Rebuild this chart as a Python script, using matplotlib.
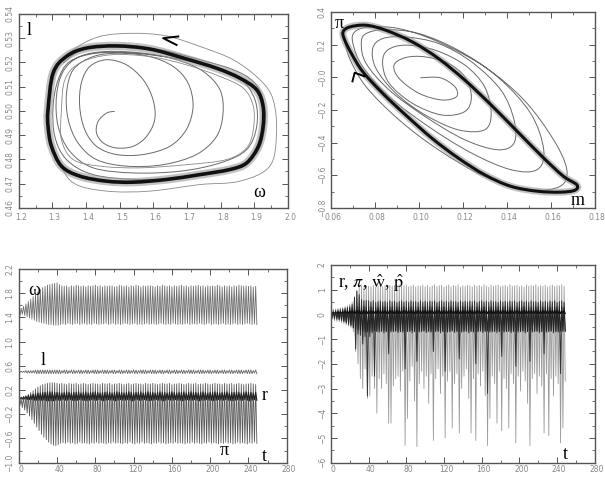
import numpy as np
import matplotlib
matplotlib.use('Agg')
import matplotlib.pyplot as plt
import matplotlib.transforms as mtransforms
from matplotlib.ticker import AutoMinorLocator
from matplotlib.path import Path
from matplotlib.patches import PathPatch

plt.rcParams['mathtext.fontset'] = 'stix'

# ---------------- panel 1: (omega, l) phase portrait ----------------
spiral1_w = [1.485, 1.461, 1.436, 1.431, 1.451, 1.490, 1.540, 1.580, 1.604, 1.599,
             1.570, 1.520, 1.461, 1.411, 1.386, 1.381, 1.396, 1.431, 1.490, 1.570,
             1.649, 1.698, 1.718, 1.703, 1.659, 1.589, 1.500, 1.421, 1.362, 1.342,
             1.347, 1.376, 1.431, 1.520, 1.629, 1.728, 1.788, 1.807, 1.798, 1.748,
             1.669, 1.570, 1.461, 1.381, 1.332, 1.312, 1.317, 1.352, 1.421, 1.540,
             1.679, 1.798, 1.877, 1.907, 1.902, 1.857, 1.778, 1.659, 1.540, 1.431,
             1.352, 1.317, 1.302, 1.307, 1.342, 1.421, 1.560, 1.718, 1.837, 1.907,
             1.931, 1.926, 1.897, 1.837, 1.738, 1.619, 1.490, 1.391, 1.332]
spiral1_l = [0.4998, 0.4991, 0.4957, 0.4909, 0.4868, 0.4847, 0.4854, 0.4895, 0.4964, 0.5046,
             0.5128, 0.5190, 0.5211, 0.5183, 0.5115, 0.5019, 0.4923, 0.4854, 0.4820, 0.4820,
             0.4854, 0.4923, 0.5019, 0.5115, 0.5183, 0.5224, 0.5238, 0.5224, 0.5170, 0.5073,
             0.4964, 0.4868, 0.4799, 0.4772, 0.4778, 0.4820, 0.4895, 0.4991, 0.5087, 0.5163,
             0.5211, 0.5238, 0.5245, 0.5224, 0.5163, 0.5060, 0.4936, 0.4833, 0.4765, 0.4744,
             0.4751, 0.4785, 0.4840, 0.4936, 0.5046, 0.5135, 0.5183, 0.5218, 0.5238, 0.5238,
             0.5204, 0.5128, 0.5019, 0.4895, 0.4799, 0.4737, 0.4717, 0.4730, 0.4765, 0.4826,
             0.4936, 0.5046, 0.5121, 0.5170, 0.5211, 0.5252, 0.5268, 0.5255, 0.5197]

cycle1_w = [1.287, 1.302, 1.342, 1.401, 1.490, 1.590, 1.689, 1.788, 1.857, 1.907, 1.926, 1.926,
            1.912, 1.877, 1.827, 1.738, 1.639, 1.540, 1.461, 1.381, 1.327, 1.297, 1.287]
cycle1_l = [0.5005, 0.5156, 0.5225, 0.5259, 0.5268, 0.5255, 0.5218, 0.5176, 0.5135, 0.5087, 0.5019, 0.4936,
            0.4854, 0.4785, 0.4758, 0.4737, 0.4717, 0.4706, 0.4710, 0.4731, 0.4772, 0.4855, 0.4937]

outer1_w = [1.284, 1.312, 1.362, 1.441, 1.540, 1.639, 1.738, 1.837, 1.917, 1.956,
            1.966, 1.946, 1.857, 1.738, 1.589, 1.461, 1.362, 1.317, 1.290]
outer1_l = [0.5005, 0.5170, 0.5252, 0.5307, 0.5320, 0.5309, 0.5266, 0.5211, 0.5128, 0.5046,
            0.4909, 0.4772, 0.4710, 0.4696, 0.4669, 0.4669, 0.4703, 0.4799, 0.4909]

inner1_w = [1.327, 1.337, 1.381, 1.470, 1.589, 1.698, 1.798, 1.867, 1.897, 1.897,
            1.877, 1.817, 1.698, 1.560, 1.441, 1.362, 1.327]
inner1_l = [0.5005, 0.5128, 0.5197, 0.5231, 0.5224, 0.5190, 0.5142, 0.5094, 0.5019, 0.4923,
            0.4847, 0.4799, 0.4778, 0.4765, 0.4772, 0.4799, 0.4881]

arrow1_w = [1.674, 1.629, 1.669]
arrow1_l = [0.5307, 0.5300, 0.5272]

# ---------------- panel 2: (m, pi) phase portrait ----------------
spiral2_m = [0.1007, 0.1097, 0.1164, 0.1171, 0.1104, 0.1000, 0.0910, 0.0887, 0.0940, 0.1029,
             0.1134, 0.1209, 0.1239, 0.1209, 0.1104, 0.0970, 0.0865, 0.0835, 0.0857, 0.0940,
             0.1074, 0.1209, 0.1299, 0.1329, 0.1299, 0.1179, 0.1029, 0.0895, 0.0805, 0.0790,
             0.0835, 0.0940, 0.1089, 0.1239, 0.1373, 0.1433, 0.1433, 0.1358, 0.1209, 0.1029,
             0.0865, 0.0760, 0.0738, 0.0760, 0.0850, 0.1000, 0.1179, 0.1358, 0.1508, 0.1568,
             0.1538, 0.1418, 0.1239, 0.1044, 0.0865, 0.0745, 0.0700, 0.0708, 0.0775, 0.0910,
             0.1089, 0.1299, 0.1478, 0.1613, 0.1673, 0.1643, 0.1508, 0.1299, 0.1089, 0.0910,
             0.0760, 0.0685, 0.0663]
spiral2_pi = [-0.003, -0.003, -0.058, -0.119, -0.139, -0.098, -0.007, 0.075, 0.121, 0.125,
              0.085, 0.003, -0.119, -0.210, -0.231, -0.159, -0.037, 0.085, 0.166, 0.197,
              0.166, 0.075, -0.058, -0.220, -0.322, -0.322, -0.231, -0.098, 0.054, 0.176,
              0.237, 0.247, 0.207, 0.095, -0.078, -0.261, -0.403, -0.444, -0.383, -0.241,
              -0.078, 0.085, 0.207, 0.268, 0.292, 0.268, 0.166, 0.003, -0.220, -0.444,
              -0.566, -0.566, -0.464, -0.302, -0.119, 0.064, 0.207, 0.278, 0.308, 0.298,
              0.217, 0.064, -0.139, -0.383, -0.566, -0.668, -0.688, -0.607, -0.444, -0.261,
              -0.058, 0.115, 0.227]

cycle2_m = [0.0655, 0.0685, 0.0760, 0.0850, 0.0970, 0.1089, 0.1209, 0.1329, 0.1448, 0.1568,
            0.1658, 0.1718, 0.1710, 0.1643, 0.1538, 0.1418, 0.1299, 0.1179, 0.1059, 0.0940,
            0.0835, 0.0745, 0.0693, 0.0663]
cycle2_pi = [0.278, 0.308, 0.319, 0.288, 0.217, 0.115, -0.017, -0.170, -0.332, -0.495,
             -0.607, -0.658, -0.692, -0.704, -0.698, -0.668, -0.597, -0.495, -0.373, -0.231,
             -0.098, 0.034, 0.146, 0.227]

arrow2_m = [0.0698, 0.0708, 0.0752]
arrow2_pi = [-0.025, 0.028, 0.006]

# ---------------- panels 3 and 4: time series (one value per cycle) ----------------
t = np.arange(0, 250, 2.5)

omega_hi = [1.60, 1.55, 1.58, 1.62, 1.66, 1.70, 1.74, 1.78, 1.82, 1.86, 1.89,
            1.91, 1.93, 1.94, 1.95, 1.96, 1.97,
            1.94, 1.92, 1.91, 1.92, 1.90, 1.92, 1.91, 1.93, 1.92, 1.91,
            1.92, 1.90, 1.92, 1.91, 1.92, 1.93, 1.91, 1.92, 1.90, 1.92,
            1.91, 1.92, 1.92, 1.90, 1.91, 1.93, 1.92, 1.91, 1.92, 1.90,
            1.92, 1.91, 1.93, 1.92, 1.90, 1.92, 1.91, 1.92, 1.92, 1.91,
            1.90, 1.92, 1.91, 1.93, 1.92, 1.91, 1.92, 1.90, 1.92, 1.91,
            1.92, 1.93, 1.91, 1.92, 1.90, 1.92, 1.91, 1.92, 1.93, 1.91,
            1.92, 1.90, 1.92, 1.91, 1.92, 1.91, 1.93, 1.92, 1.90, 1.92,
            1.91, 1.92, 1.90, 1.92, 1.91, 1.93, 1.92, 1.91, 1.92, 1.91,
            1.92, 1.90, 1.91]
omega_lo = [1.42, 1.45, 1.43, 1.41, 1.39, 1.37, 1.35, 1.33, 1.32, 1.31, 1.30,
            1.29, 1.28, 1.28, 1.27, 1.27, 1.27,
            1.28, 1.29, 1.28, 1.30, 1.29, 1.28, 1.29, 1.30, 1.28, 1.29,
            1.30, 1.28, 1.29, 1.28, 1.30, 1.29, 1.28, 1.29, 1.29, 1.30,
            1.28, 1.29, 1.30, 1.28, 1.29, 1.28, 1.29, 1.30, 1.29, 1.28,
            1.29, 1.30, 1.28, 1.29, 1.28, 1.29, 1.30, 1.28, 1.29, 1.29,
            1.28, 1.29, 1.30, 1.29, 1.28, 1.29, 1.28, 1.30, 1.29, 1.28,
            1.29, 1.28, 1.29, 1.30, 1.28, 1.29, 1.29, 1.28, 1.30, 1.29,
            1.28, 1.29, 1.30, 1.28, 1.29, 1.29, 1.28, 1.29, 1.30, 1.28,
            1.29, 1.28, 1.29, 1.30, 1.28, 1.29, 1.28, 1.29, 1.30, 1.29,
            1.28, 1.29, 1.28]
pi_hi = [0.04, 0.06, 0.08, 0.10, 0.13, 0.16, 0.19, 0.22, 0.25, 0.27, 0.29,
         0.30, 0.31, 0.32, 0.32, 0.32, 0.31,
         0.30, 0.31, 0.30, 0.29, 0.31, 0.30, 0.30, 0.31, 0.29, 0.30,
         0.31, 0.30, 0.29, 0.30, 0.31, 0.30, 0.30, 0.29, 0.31, 0.30,
         0.30, 0.31, 0.29, 0.30, 0.30, 0.31, 0.30, 0.29, 0.30, 0.31,
         0.29, 0.30, 0.31, 0.30, 0.30, 0.29, 0.31, 0.30, 0.30, 0.31,
         0.30, 0.29, 0.30, 0.31, 0.30, 0.30, 0.31, 0.29, 0.30, 0.30,
         0.31, 0.30, 0.29, 0.30, 0.31, 0.30, 0.30, 0.31, 0.29, 0.30,
         0.30, 0.31, 0.30, 0.29, 0.30, 0.31, 0.30, 0.30, 0.29, 0.31,
         0.30, 0.30, 0.31, 0.29, 0.30, 0.31, 0.30, 0.29, 0.30, 0.30,
         0.31, 0.30, 0.29]
pi_lo = [-0.05, -0.09, -0.13, -0.18, -0.23, -0.29, -0.35, -0.41, -0.47, -0.53, -0.58,
         -0.62, -0.66, -0.69, -0.71, -0.72, -0.70,
         -0.68, -0.67, -0.68, -0.66, -0.68, -0.67, -0.69, -0.68, -0.66, -0.68,
         -0.67, -0.68, -0.69, -0.67, -0.68, -0.66, -0.68, -0.67, -0.68, -0.69,
         -0.67, -0.68, -0.66, -0.68, -0.67, -0.68, -0.69, -0.67, -0.68, -0.66,
         -0.68, -0.69, -0.67, -0.68, -0.66, -0.68, -0.67, -0.68, -0.69, -0.67,
         -0.68, -0.66, -0.68, -0.67, -0.69, -0.68, -0.67, -0.68, -0.66, -0.68,
         -0.67, -0.68, -0.69, -0.67, -0.68, -0.66, -0.68, -0.67, -0.68, -0.69,
         -0.67, -0.68, -0.66, -0.68, -0.67, -0.68, -0.69, -0.67, -0.68, -0.66,
         -0.68, -0.67, -0.69, -0.68, -0.66, -0.68, -0.67, -0.68, -0.69, -0.67,
         -0.68, -0.66, -0.68]
l_hi = [0.51, 0.51, 0.51, 0.52, 0.52, 0.52, 0.52, 0.53, 0.53, 0.53, 0.53,
        0.53, 0.53, 0.53, 0.53, 0.53, 0.53,
        0.53, 0.52, 0.53, 0.53, 0.52, 0.53, 0.53, 0.52, 0.53, 0.53,
        0.52, 0.53, 0.53, 0.52, 0.53, 0.53, 0.53, 0.52, 0.53, 0.53,
        0.53, 0.52, 0.53, 0.53, 0.52, 0.53, 0.53, 0.52, 0.53, 0.53,
        0.52, 0.53, 0.53, 0.52, 0.53, 0.53, 0.53, 0.52, 0.53, 0.53,
        0.53, 0.52, 0.53, 0.53, 0.52, 0.53, 0.53, 0.52, 0.53, 0.53,
        0.52, 0.53, 0.53, 0.52, 0.53, 0.53, 0.53, 0.52, 0.53, 0.53,
        0.53, 0.52, 0.53, 0.53, 0.52, 0.53, 0.53, 0.52, 0.53, 0.53,
        0.52, 0.53, 0.53, 0.52, 0.53, 0.53, 0.53, 0.52, 0.53, 0.53,
        0.53, 0.52, 0.53]
l_lo = [0.49, 0.49, 0.49, 0.48, 0.48, 0.48, 0.48, 0.47, 0.47, 0.47, 0.47,
        0.47, 0.47, 0.47, 0.47, 0.47, 0.47,
        0.47, 0.48, 0.47, 0.47, 0.48, 0.47, 0.47, 0.48, 0.47, 0.47,
        0.48, 0.47, 0.47, 0.48, 0.47, 0.47, 0.47, 0.48, 0.47, 0.47,
        0.47, 0.48, 0.47, 0.47, 0.48, 0.47, 0.47, 0.48, 0.47, 0.47,
        0.48, 0.47, 0.47, 0.48, 0.47, 0.47, 0.47, 0.48, 0.47, 0.47,
        0.47, 0.48, 0.47, 0.47, 0.48, 0.47, 0.47, 0.48, 0.47, 0.47,
        0.48, 0.47, 0.47, 0.48, 0.47, 0.47, 0.47, 0.48, 0.47, 0.47,
        0.47, 0.48, 0.47, 0.47, 0.48, 0.47, 0.47, 0.48, 0.47, 0.47,
        0.48, 0.47, 0.47, 0.48, 0.47, 0.47, 0.47, 0.48, 0.47, 0.47,
        0.47, 0.48, 0.47]
r_hi = [0.08, 0.08, 0.09, 0.10, 0.11, 0.12, 0.13, 0.14, 0.15, 0.15, 0.16,
        0.16, 0.17, 0.17, 0.17, 0.16, 0.16,
        0.16, 0.15, 0.16, 0.17, 0.16, 0.15, 0.16, 0.16, 0.17, 0.15,
        0.16, 0.17, 0.15, 0.16, 0.16, 0.17, 0.16, 0.15, 0.16, 0.16,
        0.17, 0.16, 0.15, 0.16, 0.17, 0.16, 0.16, 0.15, 0.16, 0.17,
        0.16, 0.15, 0.16, 0.16, 0.17, 0.15, 0.16, 0.17, 0.16, 0.16,
        0.15, 0.16, 0.17, 0.16, 0.16, 0.15, 0.16, 0.17, 0.16, 0.15,
        0.16, 0.16, 0.17, 0.15, 0.16, 0.17, 0.16, 0.16, 0.15, 0.16,
        0.17, 0.16, 0.15, 0.16, 0.16, 0.17, 0.16, 0.15, 0.16, 0.16,
        0.17, 0.15, 0.16, 0.16, 0.17, 0.16, 0.15, 0.16, 0.17, 0.16,
        0.16, 0.15, 0.16]
r_lo = [0.05, 0.05, 0.05, 0.04, 0.04, 0.04, 0.03, 0.03, 0.03, 0.03, 0.03,
        0.02, 0.02, 0.02, 0.02, 0.03, 0.03,
        0.03, 0.04, 0.03, 0.03, 0.04, 0.03, 0.02, 0.03, 0.04, 0.03,
        0.03, 0.02, 0.03, 0.04, 0.03, 0.03, 0.04, 0.03, 0.02, 0.03,
        0.04, 0.03, 0.03, 0.02, 0.03, 0.04, 0.03, 0.03, 0.04, 0.03,
        0.02, 0.03, 0.04, 0.03, 0.03, 0.04, 0.03, 0.02, 0.03, 0.03,
        0.04, 0.03, 0.03, 0.02, 0.03, 0.04, 0.03, 0.03, 0.04, 0.03,
        0.03, 0.02, 0.03, 0.04, 0.03, 0.03, 0.04, 0.03, 0.02, 0.03,
        0.03, 0.04, 0.03, 0.03, 0.02, 0.03, 0.04, 0.03, 0.03, 0.04,
        0.03, 0.03, 0.02, 0.03, 0.04, 0.03, 0.03, 0.04, 0.03, 0.02,
        0.03, 0.04, 0.03]

# w-hat (dark) and p-hat (light grey spikes) for panel 4
wh_hi = [0.12, 0.14, 0.16, 0.18, 0.20, 0.22, 0.25, 0.28, 0.32, 0.40, 0.70,
         0.95, 0.80, 0.60, 0.55, 0.56, 0.55,
         0.50, 0.55, 0.48, 0.52, 0.55, 0.50, 0.53, 0.49, 0.55, 0.51,
         0.54, 0.48, 0.52, 0.55, 0.50, 0.53, 0.49, 0.55, 0.51, 0.52,
         0.48, 0.55, 0.50, 0.53, 0.49, 0.54, 0.51, 0.55, 0.48, 0.52,
         0.55, 0.50, 0.53, 0.49, 0.55, 0.51, 0.52, 0.48, 0.55, 0.50,
         0.53, 0.49, 0.54, 0.51, 0.55, 0.48, 0.52, 0.55, 0.50, 0.53,
         0.49, 0.55, 0.51, 0.52, 0.48, 0.55, 0.50, 0.53, 0.49, 0.54,
         0.51, 0.55, 0.48, 0.52, 0.55, 0.50, 0.53, 0.49, 0.55, 0.51,
         0.52, 0.48, 0.55, 0.50, 0.53, 0.49, 0.54, 0.51, 0.55, 0.48,
         0.52, 0.55, 0.50]
wh_lo = [-0.15, -0.18, -0.20, -0.22, -0.25, -0.28, -0.32, -0.36, -0.42, -0.55, -1.40,
         -0.80, -0.85, -1.20, -0.90, -3.30, -0.90,
         -0.75, -2.50, -0.70, -0.72, -0.68, -0.75, -0.70, -1.60, -0.72, -0.70,
         -0.68, -0.74, -0.70, -0.72, -2.20, -0.70, -0.68, -0.75, -0.70, -1.90,
         -0.72, -0.70, -0.68, -0.74, -0.70, -0.72, -1.50, -0.70, -0.68, -0.75,
         -0.70, -2.30, -0.72, -0.70, -0.68, -0.74, -0.70, -1.80, -0.72, -0.70,
         -0.68, -0.75, -0.70, -0.72, -2.00, -0.70, -0.68, -0.74, -0.70, -3.20,
         -0.72, -0.70, -0.68, -0.75, -0.70, -1.70, -0.72, -0.70, -0.68, -0.74,
         -0.70, -2.10, -0.72, -0.70, -0.68, -0.75, -0.70, -1.90, -0.72, -0.70,
         -0.68, -0.74, -0.70, -1.60, -0.72, -0.70, -0.68, -0.75, -0.70, -0.72,
         -2.40, -0.70, -0.68]
ph_hi = [0.25, 0.22, 0.22, 0.24, 0.26, 0.28, 0.32, 0.36, 0.42, 0.50, 0.70,
         0.95, 1.10, 1.15, 1.12, 1.15, 1.14,
         1.12, 1.18, 1.10, 1.15, 1.20, 1.12, 1.16, 1.10, 1.18, 1.14,
         1.17, 1.11, 1.19, 1.13, 1.16, 1.20, 1.12, 1.15, 1.18, 1.10,
         1.16, 1.14, 1.19, 1.12, 1.17, 1.10, 1.15, 1.20, 1.13, 1.16,
         1.18, 1.11, 1.15, 1.19, 1.12, 1.17, 1.14, 1.20, 1.10, 1.16,
         1.13, 1.18, 1.15, 1.11, 1.19, 1.14, 1.17, 1.12, 1.20, 1.15,
         1.10, 1.18, 1.13, 1.16, 1.19, 1.12, 1.15, 1.17, 1.11, 1.20,
         1.14, 1.16, 1.18, 1.12, 1.15, 1.10, 1.19, 1.13, 1.17, 1.15,
         1.20, 1.12, 1.16, 1.14, 1.18, 1.11, 1.15, 1.19, 1.13, 1.17,
         1.16, 1.20, 1.14]
ph_lo = [-0.20, -0.25, -0.28, -0.30, -0.34, -0.38, -0.42, -0.48, -0.55, -0.70, -1.50,
         -2.00, -2.60, -3.00, -2.20, -3.40, -3.30,
         -2.50, -3.00, -4.00, -2.60, -3.00, -2.40, -2.80, -4.40, -4.40, -2.90,
         -2.60, -2.50, -3.10, -2.30, -5.30, -4.20, -2.70, -2.10, -3.50, -5.35,
         -2.80, -2.30, -3.00, -2.50, -3.60, -2.40, -5.10, -2.60, -2.20, -3.20,
         -2.50, -5.00, -2.70, -2.30, -4.60, -2.80, -2.40, -4.80, -3.00, -2.50,
         -2.20, -3.40, -4.80, -2.60, -5.10, -2.40, -2.90, -2.30, -3.30, -5.30,
         -4.20, -2.50, -2.80, -4.40, -2.30, -4.70, -2.60, -3.00, -4.60, -2.40,
         -2.80, -5.20, -2.50, -3.10, -2.30, -2.70, -3.60, -5.30, -2.60, -2.40,
         -3.20, -2.50, -2.90, -4.80, -2.40, -4.90, -2.60, -3.30, -2.50, -2.80,
         -5.20, -4.60, -2.70]

for s in [omega_hi, omega_lo, pi_hi, pi_lo, l_hi, l_lo, r_hi, r_lo, wh_hi, wh_lo, ph_hi, ph_lo]:
    assert len(s) == len(t), len(s)

# tick labels
p1_xticks = [1.2, 1.3, 1.4, 1.5, 1.6, 1.7, 1.8, 1.9, 2.0]
p1_yticks = [0.46, 0.47, 0.48, 0.49, 0.50, 0.51, 0.52, 0.53, 0.54]
p2_xticks = [0.06, 0.08, 0.10, 0.12, 0.14, 0.16, 0.18]
p2_yticks = [-0.8, -0.6, -0.4, -0.2, 0.0, 0.2, 0.4]
p2_ylabels = ['\u22120.8', '\u22120.6', '\u22120.4', '\u22120.2', '\u22120.0', '0.2', '0.4']
p3_yticks = [-1.0, -0.6, -0.2, 0.2, 0.6, 1.0, 1.4, 1.8, 2.2]
p3_ylabels = ['\u22121.0', '\u22120.6', '\u22120.2', '0.2', '0.6', '1.0', '1.4', '1.8', '2.2']
p4_yticks = [-6, -5, -4, -3, -2, -1, 0, 1, 2]
p4_ylabels = ['\u22126', '\u22125', '\u22124', '\u22123', '\u22122', '\u22121', '0', '1', '2']
t_ticks = [0, 40, 80, 120, 160, 200, 240, 280]


def zigzag(tt, hi, lo, half=1.25):
    x = np.column_stack([tt, tt + half]).ravel()
    y = np.column_stack([hi, lo]).ravel()
    return x, y


def smooth_path(xs, ys, closed=False):
    # draw a smooth curve through the listed points (Catmull-Rom as Bezier)
    p = np.column_stack([xs, ys]).astype(float)
    if closed:
        p = np.vstack([p[-1], p, p[0], p[1]])
    else:
        p = np.vstack([p[0], p, p[-1]])
    verts = [p[1]]
    codes = [Path.MOVETO]
    for i in range(1, len(p) - 2):
        c1 = p[i] + (p[i + 1] - p[i - 1]) / 6.0
        c2 = p[i + 1] - (p[i + 2] - p[i]) / 6.0
        verts += [c1, c2, p[i + 1]]
        codes += [Path.CURVE4] * 3
    return Path(verts, codes)


def curve(ax, xs, ys, closed=False, **kw):
    ax.add_patch(PathPatch(smooth_path(xs, ys, closed), fill=False, **kw))


def style(ax, xticks, xlabels, yticks, ylabels, xpad=4):
    ax.set_xticks(xticks)
    ax.set_xticklabels(xlabels)
    ax.set_yticks(yticks)
    ax.set_yticklabels(ylabels, rotation=90, va='center')
    ax.xaxis.set_minor_locator(AutoMinorLocator(2))
    ax.yaxis.set_minor_locator(AutoMinorLocator(2))
    ax.tick_params(which='both', direction='in', top=True, right=True,
                   labelsize=5.5, labelcolor='#888888', color='#555555')
    ax.tick_params(axis='x', pad=xpad)
    ax.tick_params(axis='y', pad=3)
    ax.tick_params(which='major', length=4, width=0.7)
    ax.tick_params(which='minor', length=2, width=0.6)
    # the scanned labels sit a little right of their ticks
    shift = mtransforms.ScaledTranslation(1.5 / 72, 0, fig.dpi_scale_trans)
    for lab in ax.get_xticklabels():
        lab.set_transform(lab.get_transform() + shift)
    for sp in ax.spines.values():
        sp.set_color('#555555')
        sp.set_linewidth(1.0)


serif = 'Liberation Serif'
fig = plt.figure(figsize=[6.05, 4.8], dpi=100)

# panel 1
ax1 = fig.add_axes([0.031, 0.567, 0.445, 0.404])
curve(ax1, spiral1_w, spiral1_l, color='#6a6a6a', lw=0.7)
curve(ax1, outer1_w, outer1_l, closed=True, color='#888888', lw=0.6)
curve(ax1, inner1_w, inner1_l, closed=True, color='#888888', lw=0.6)
curve(ax1, cycle1_w, cycle1_l, closed=True, color='#9a9a9a', lw=6, alpha=0.6)
curve(ax1, cycle1_w, cycle1_l, closed=True, color='#111111', lw=2.6)
ax1.plot(arrow1_w, arrow1_l, color='black', lw=1.4)
ax1.set_xlim(1.2, 2.0)
ax1.set_ylim(0.46, 0.54)
style(ax1, p1_xticks, ['%.1f' % v for v in p1_xticks], p1_yticks, ['%.2f' % v for v in p1_yticks])
ax1.text(1.224, 0.5315, 'l', family=serif, fontsize=13)
ax1.text(1.896, 0.4645, '\u03c9', family=serif, fontsize=13)

# panel 2
ax2 = fig.add_axes([0.547, 0.567, 0.436, 0.408])
curve(ax2, spiral2_m, spiral2_pi, color='#6a6a6a', lw=0.7)
curve(ax2, cycle2_m, cycle2_pi, closed=True, color='#9a9a9a', lw=5, alpha=0.6)
curve(ax2, cycle2_m, cycle2_pi, closed=True, color='#111111', lw=2.2)
ax2.plot(arrow2_m, arrow2_pi, color='black', lw=1.4)
ax2.set_xlim(0.06, 0.18)
ax2.set_ylim(-0.8, 0.4)
style(ax2, p2_xticks, ['%.2f' % v for v in p2_xticks], p2_yticks, p2_ylabels)
ax2.text(0.0615, 0.30, '\u03c0', family=serif, fontsize=13)
ax2.text(0.169, -0.785, 'm', family=serif, fontsize=13)

# panel 3
ax3 = fig.add_axes([0.031, 0.036, 0.443, 0.404])
x, y = zigzag(t, omega_hi, omega_lo)
ax3.plot(x, y, color='#6f6f6f', lw=0.6)
x, y = zigzag(t, pi_hi, pi_lo)
ax3.plot(x, y, color='#5a5a5a', lw=0.6)
x, y = zigzag(t, l_hi, l_lo)
ax3.plot(x, y, color='#666666', lw=0.6)
x, y = zigzag(t, r_hi, r_lo)
ax3.plot(x, y, color='#222222', lw=0.8)
ax3.set_xlim(0, 280)
ax3.set_ylim(-1.0, 2.2)
style(ax3, t_ticks, [str(v) for v in t_ticks], p3_yticks, p3_ylabels, xpad=2)
ax3.text(10, 1.76, '\u03c9', family=serif, fontsize=13)
ax3.text(23, 0.62, 'l', family=serif, fontsize=13)
ax3.text(254, 0.03, 'r', family=serif, fontsize=13)
ax3.text(210, -0.88, '\u03c0', family=serif, fontsize=13)
ax3.text(254, -0.97, 't', family=serif, fontsize=13)

# panel 4
ax4 = fig.add_axes([0.547, 0.036, 0.436, 0.412])
x, y = zigzag(t, ph_hi, ph_lo)
ax4.plot(x, y, color='#9a9a9a', lw=0.6)
x, y = zigzag(t, wh_hi, wh_lo)
ax4.plot(x, y, color='#333333', lw=0.7)
x, y = zigzag(t, pi_hi, pi_lo)
ax4.plot(x, y, color='#222222', lw=0.6)
x, y = zigzag(t, r_hi, r_lo)
ax4.plot(x, y, color='#111111', lw=0.8)
ax4.set_xlim(0, 280)
ax4.set_ylim(-6, 2)
style(ax4, t_ticks, [str(v) for v in t_ticks], p4_yticks, p4_ylabels, xpad=2)
ax4.text(8, 1.05, r'r, $\pi$, $\hat{\mathrm{w}}$, $\hat{\mathrm{p}}$', family=serif, fontsize=13)
ax4.text(246, -5.85, 't', family=serif, fontsize=13)

fig.savefig('out.png', dpi=100)
